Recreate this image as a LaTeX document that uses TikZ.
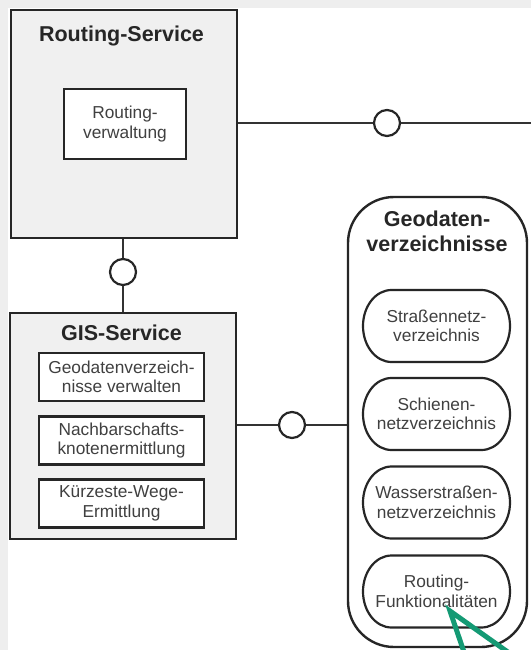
\documentclass[tikz,border=0pt]{standalone}
\usepackage{fontspec}
\setmainfont{Liberation Sans}
\definecolor{bggrey}{HTML}{EEEEEE}
\definecolor{boxgrey}{HTML}{F0F0F0}
\definecolor{txtgrey}{HTML}{404040}
\definecolor{arrowgreen}{HTML}{149A74}
\begin{document}
\begin{tikzpicture}[x=1pt,y=-1pt,
  outerbox/.style={draw=black!85, line width=2.4pt, fill=boxgrey, inner sep=0pt},
  innerbox/.style={draw=black!85, line width=2.4pt, fill=white, inner sep=0pt, align=center,
     font=\fontsize{17.3}{19.5}\selectfont, text=txtgrey},
  titletext/.style={inner sep=0pt, align=center, font=\fontsize{21.5}{25}\selectfont\bfseries, text=black!85},
  pill/.style={inner sep=0pt, align=center,
     minimum width=147pt, minimum height=72pt,
     font=\fontsize{17.3}{19.5}\selectfont, text=txtgrey},
  pillline/.style={draw=black!85, line width=2.2pt},
  port/.style={circle, draw=black!85, line width=2.2pt, fill=white, minimum size=26pt, inner sep=0pt},
  conn/.style={draw=black!80, line width=1.4pt},
  pointer/.style={draw=arrowgreen, line width=5pt, line join=miter}
]
\useasboundingbox (0,0) rectangle (531,650);
\fill[white] (0,0) rectangle (531,650);
\fill[bggrey] (0,0) rectangle (531,8);
\fill[bggrey] (0,0) rectangle (8,650);

% Routing-Service
\node[outerbox, minimum width=226pt, minimum height=228pt] (rs) at (124,124) {};
\node[titletext, anchor=base] (rstitle) at (121.5,42) {Routing-Service};
\node[innerbox, minimum width=122pt, minimum height=70pt] (rv) at (125,124) {Routing-\\verwaltung};

% GIS-Service
\node[outerbox, minimum width=226pt, minimum height=226pt] (gis) at (123,426) {};
\node[titletext, anchor=base] (gistitle) at (121.5,340) {GIS-Service};
\node[innerbox, minimum width=165pt, minimum height=48pt] (g1) at (121.5,377) {Geodatenverzeich-\\nisse verwalten};
\node[innerbox, minimum width=165pt, minimum height=48pt] (g2) at (121.5,440.5) {Nachbarschafts-\\knotenermittlung};
\node[innerbox, minimum width=165pt, minimum height=48pt] (g3) at (121.5,503.5) {Kürzeste-Wege-\\Ermittlung};

% Geodatenverzeichnisse
\node[draw=black!85, line width=2.4pt, fill=white, rounded corners=46pt, inner sep=0pt,
      minimum width=179pt, minimum height=450pt] (geo) at (437.5,422) {};
\node[titletext] (geotitle) at (437,231) {Geodaten-\\verzeichnisse};
\foreach \n/\y/\t in {e1/326/{Straßennetz-\\verzeichnis},
                      e2/414/{Schienen-\\netzverzeichnis},
                      e3/502.5/{Wasserstraßen-\\netzverzeichnis},
                      e4/591.5/{Routing-\\Funktionalitäten}}{
  \draw[pillline] (436.5-45,\y-36) -- (436.5+45,\y-36)
     arc[start angle=90, end angle=-90, x radius=28.5pt, y radius=36pt]
     -- (436.5-45,\y+36)
     arc[start angle=270, end angle=90, x radius=28.5pt, y radius=36pt] -- cycle;
  \node[pill] (\n) at (436.5,\y) {\t};
}

% ports
\node[port] (p1) at (123,272) {};
\node[port] (p2) at (387,123) {};
\node[port] (p3) at (292,425) {};
\coordinate (redge) at (531,123);

\draw[conn] (p1.north) -- (p1.north |- rs.south);
\draw[conn] (p1.south) -- (p1.south |- gis.north);
\draw[conn] (rs.east |- p2) -- (p2.west);
\draw[conn] (p2.east) -- (redge);
\draw[conn] (gis.east |- p3) -- (p3.west);
\draw[conn] (p3.east) -- (geo.west |- p3);

% green pointer
\coordinate (tip) at (450,611);
\coordinate (pa) at (465,655);
\coordinate (pb) at (512,655);
\draw[pointer] (pa) -- (tip) -- (pb);
\end{tikzpicture}
\end{document}
